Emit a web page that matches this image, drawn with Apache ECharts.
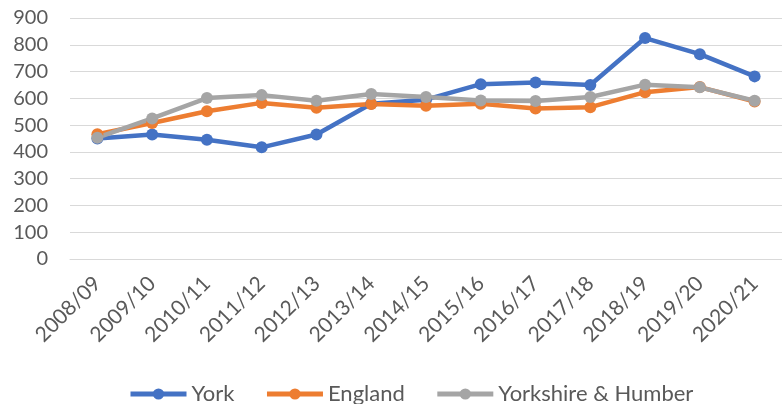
<!DOCTYPE html>
<html>
<head>
<meta charset="utf-8">
<script src="https://cdn.jsdelivr.net/npm/echarts@6/dist/echarts.min.js"></script>
<style>html,body{margin:0;padding:0;background:#fff}#c{width:782px;height:404px}</style>
</head>
<body>
<div id="c"></div>
<script>
const categories = ['2008/09','2009/10','2010/11','2011/12','2012/13','2013/14','2014/15','2015/16','2016/17','2017/18','2018/19','2019/20','2020/21'];
const york = [450, 465, 445, 417, 465, 580, 595, 653, 659, 650, 825, 765, 682];
const england = [466, 508, 552, 583, 565, 579, 572, 580, 562, 567, 623, 642, 588];
const yorkshire = [453, 525, 601, 612, 591, 616, 605, 592, 590, 605, 651, 641, 591];
const yTicks = {min: 0, max: 900, interval: 100};

const font = 'Lato';
const grey = '#595959';
function s(name, data, color) {
  return {
    name, type: 'line', data,
    symbol: 'circle', symbolSize: 12,
    lineStyle: {color, width: 4.5},
    itemStyle: {color},
    emphasis: {disabled: true}
  };
}
const chart = echarts.init(document.getElementById('c'), null, {renderer: 'canvas'});
chart.setOption({
  animation: false,
  backgroundColor: '#fff',
  grid: {left: 70, top: 18, width: 717, bottom: 145, containLabel: false},
  xAxis: {
    type: 'category', data: categories, boundaryGap: true,
    axisLine: {lineStyle: {color: '#D9D9D9', width: 1}},
    axisTick: {show: false},
    axisLabel: {rotate: 45, fontSize: 21, color: grey, fontFamily: font, margin: 21, interval: 0}
  },
  yAxis: {
    type: 'value', min: yTicks.min, max: yTicks.max, interval: yTicks.interval,
    axisLine: {show: false}, axisTick: {show: false},
    splitLine: {lineStyle: {color: '#D9D9D9', width: 1}},
    axisLabel: {fontSize: 20, color: grey, fontFamily: font, margin: 22}
  },
  legend: {
    top: 378, left: 123, itemWidth: 56, itemHeight: 14, itemGap: 30,
    lineStyle: {width: 5},
    textStyle: {fontSize: 22, color: grey, fontFamily: font},
    data: ['York','England','Yorkshire & Humber']
  },
  series: [
    s('York', york, '#4472C4'),
    s('England', england, '#ED7D31'),
    s('Yorkshire & Humber', yorkshire, '#A5A5A5')
  ]
});
</script>
</body>
</html>
